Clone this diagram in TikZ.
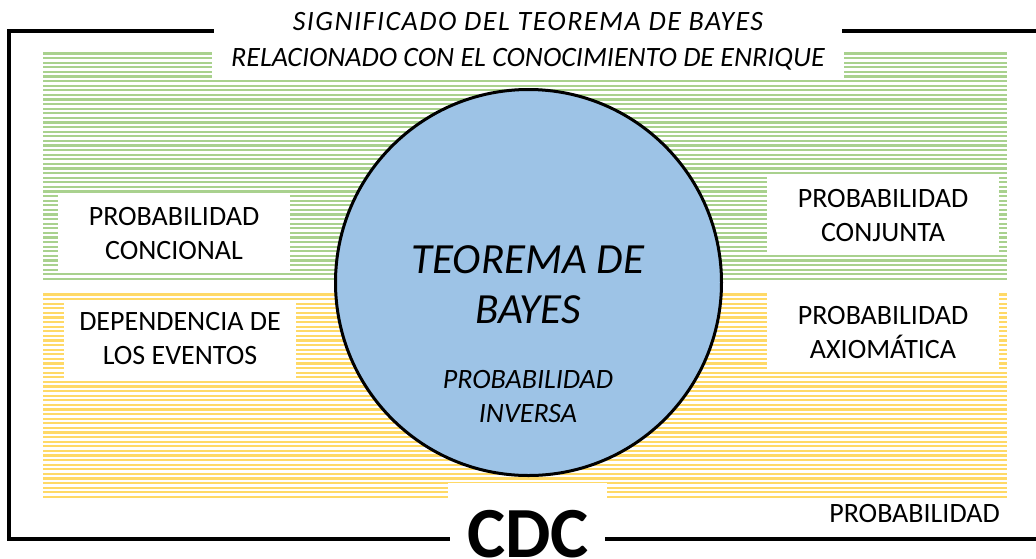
\documentclass[tikz,border=0pt]{standalone}
\usepackage{fontspec}
\setmainfont{Carlito}
\definecolor{stripegreen}{HTML}{A9D18E}
\definecolor{stripeyellow}{HTML}{FFD966}
\definecolor{circblue}{HTML}{9DC3E6}
\begin{document}
\begin{tikzpicture}[x=1pt,y=-1pt,
  infobox/.style={rectangle, fill=white, inner sep=0pt, minimum width=232pt, minimum height=78pt, align=center, font=\fontsize{28}{34}\selectfont},
  titletext/.style={anchor=base, inner sep=0pt, font=\fontsize{28}{33}\itshape},
  frame/.style={line width=3.5pt, line cap=rect},
  cutout/.style={rectangle, fill=white, inner sep=0pt}]
\useasboundingbox (0,0) rectangle (1036,558);
% striped bands
\foreach \y in {53.5,58.1,...,282} \draw[stripegreen, line width=2.3pt] (43,\y) -- (1007,\y);
\foreach \y in {294.5,299.1,...,500} \draw[stripeyellow, line width=2.3pt] (43,\y) -- (1007,\y);
% cutouts
\node[cutout, minimum width=632pt, minimum height=80pt] (titlecut) at (528,40) {};
\node[cutout, minimum width=159pt, minimum height=75pt] (cdccut) at (527.5,520.5) {};
% boxes
\node[infobox] (cond) at (174,234) {PROBABILIDAD\\CONCIONAL};
\node[infobox] (dep) at (180,338.5) {DEPENDENCIA DE\\LOS EVENTOS};
\node[infobox, minimum height=77pt] (conj) at (883,215.5) {PROBABILIDAD\\CONJUNTA};
\node[infobox, minimum height=79pt] (axio) at (883,332.5) {PROBABILIDAD\\AXIOMÁTICA};
% circle
\node[circle, draw, line width=3pt, fill=circblue, minimum size=386pt, inner sep=0pt] (bayes) at (528.5,282.5) {};
\node[anchor=base, align=center, inner sep=0pt, font=\fontsize{43}{50}\itshape] (bayest) at (528,323) {TEOREMA DE\\BAYES};
\node[anchor=base, align=center, inner sep=0pt, font=\fontsize{28}{34}\itshape] (inv) at (528,422) {PROBABILIDAD\\INVERSA};
% titles
\node[titletext, font=\fontsize{28}{33}\itshape\addfontfeature{LetterSpace=5.3}] (t1) at (528,30) {SIGNIFICADO DEL TEOREMA DE BAYES};
\node[titletext] (t2) at (528,66) {RELACIONADO CON EL CONOCIMIENTO DE ENRIQUE};
\node[anchor=base, inner sep=0pt, font=\fontsize{28}{30}\selectfont] (prob) at (914.5,522) {PROBABILIDAD};
\node[anchor=base, inner sep=0pt, font=\fontsize{72}{80}\bfseries] (cdc) at (528,557) {CDC};
% frame
\coordinate (ftl) at (9,31);
\coordinate (fbl) at (9,539);
\coordinate (ftr) at (1036,31);
\coordinate (fbr) at (1036,539);
\draw[frame] (titlecut.west |- ftl) -- (ftl) -- (fbl) -- (cdccut.west |- fbl);
\draw[frame] (titlecut.east |- ftr) -- (ftr);
\draw[frame] (cdccut.east |- fbr) -- (fbr);
\end{tikzpicture}
\end{document}
